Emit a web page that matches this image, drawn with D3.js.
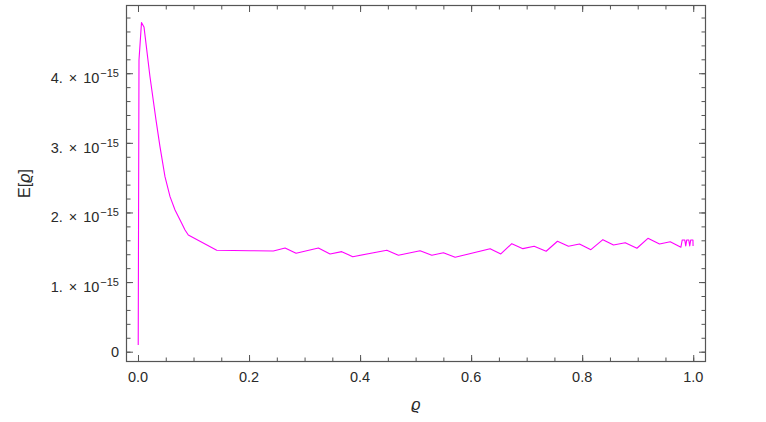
<!DOCTYPE html>
<html lang="en">
<head>
<meta charset="utf-8">
<title>E[rho]</title>
<script src="https://cdn.jsdelivr.net/npm/d3@7"></script>
<style>
  body { margin: 0; background: #fff; }
  svg text { font-family: Arial, "Liberation Sans", sans-serif; fill: #2a2a2a; }
</style>
</head>
<body>
<script>
// data (energy in units of 1e-15)
var rho = [0.0004, 0.0018, 0.0063, 0.0108, 0.0216, 0.0324, 0.0396, 0.0486, 0.0577, 0.0667,
  0.0787, 0.0847, 0.0906, 0.1418, 0.2018, 0.2438, 0.2649, 0.2847, 0.3249, 0.3459,
  0.3670, 0.3868, 0.4481, 0.4690, 0.5081, 0.5292, 0.5501, 0.5712, 0.6342, 0.6535,
  0.6733, 0.6932, 0.7135, 0.7351, 0.7555, 0.7753, 0.7951, 0.8157, 0.8373, 0.8564,
  0.8775, 0.8986, 0.9184, 0.9393, 0.9586, 0.9778, 0.9802, 0.9847, 0.9865, 0.9883,
  0.9919, 0.9937, 0.9955, 0.9995, 0.9997];
var energy = [0.096, 4.19, 4.727, 4.665, 3.95, 3.33, 2.945, 2.514, 2.227, 2.036,
  1.845, 1.749, 1.677, 1.457, 1.451, 1.447, 1.490, 1.414, 1.490, 1.404,
  1.437, 1.365, 1.457, 1.385, 1.451, 1.385, 1.422, 1.356, 1.480, 1.404,
  1.552, 1.480, 1.514, 1.443, 1.586, 1.514, 1.547, 1.466, 1.609, 1.533,
  1.566, 1.486, 1.629, 1.547, 1.580, 1.500, 1.605, 1.605, 1.519, 1.605,
  1.605, 1.519, 1.605, 1.605, 1.519];
var unit = 1e-15;
var xTicks = [0, 0.2, 0.4, 0.6, 0.8, 1.0];
var yTicks = [0, 1, 2, 3, 4];

var w = 766, h = 422;
var plotLeft = 126, plotRight = 706, plotTop = 5, plotBottom = 362;

var x = d3.scaleLinear().domain([-0.0216, 1.023]).range([plotLeft, plotRight]);
var y = d3.scaleLinear().domain([-0.148 * unit, 4.98 * unit]).range([plotBottom, plotTop]);

var svg = d3.select("body").append("svg")
  .attr("width", w)
  .attr("height", h);

var frameColor = "#555";

// minor ticks
var xMinor = d3.range(0, 1.0001, 0.05);
var yMinor = d3.range(0, 4.9, 0.2).map(function(d) { return d * unit; });
var yMajor = yTicks.map(function(d) { return d * unit; });

function drawAxis(axis, tx, ty, len) {
  var g = svg.append("g")
    .attr("transform", "translate(" + tx + "," + ty + ")")
    .call(axis.tickSize(len).tickFormat(""));
  g.select(".domain").remove();
  g.selectAll("line").attr("stroke", frameColor).attr("stroke-width", 1);
}

// bottom & top
drawAxis(d3.axisBottom(x).tickValues(xMinor), 0, plotBottom, -4.5);
drawAxis(d3.axisBottom(x).tickValues(xTicks), 0, plotBottom, -7);
drawAxis(d3.axisTop(x).tickValues(xMinor), 0, plotTop, -4.5);
drawAxis(d3.axisTop(x).tickValues(xTicks), 0, plotTop, -7);
// left & right
drawAxis(d3.axisLeft(y).tickValues(yMinor), plotLeft, 0, -4.5);
drawAxis(d3.axisLeft(y).tickValues(yMajor), plotLeft, 0, -7);
drawAxis(d3.axisRight(y).tickValues(yMinor), plotRight, 0, -4.5);
drawAxis(d3.axisRight(y).tickValues(yMajor), plotRight, 0, -7);

// frame
svg.append("rect")
  .attr("x", plotLeft + 0.5).attr("y", plotTop + 0.5)
  .attr("width", plotRight - plotLeft - 1).attr("height", plotBottom - plotTop - 1)
  .attr("fill", "none")
  .attr("stroke", frameColor)
  .attr("stroke-width", 1.2);

// x tick labels
svg.selectAll("text.xlab")
  .data(xTicks)
  .enter()
  .append("text")
  .attr("class", "xlab")
  .attr("x", function(d) { return x(d); })
  .attr("y", 382)
  .attr("text-anchor", "middle")
  .style("font-size", "14.5px")
  .text(d3.format(".1f"));

// y tick labels
yTicks.forEach(function(d) {
  var py = y(d * unit);
  if (d === 0) {
    svg.append("text")
      .attr("x", 119).attr("y", py + 5)
      .attr("text-anchor", "end")
      .style("font-size", "14.5px")
      .text("0");
    return;
  }
  var t = svg.append("text")
    .attr("x", 119).attr("y", py + 10)
    .attr("text-anchor", "end")
    .style("font-size", "14.5px");
  t.append("tspan").text(d + ".");
  t.append("tspan").attr("dx", 6).text("\u00d7");
  t.append("tspan").attr("dx", 6).text("10");
  t.append("tspan").attr("dx", 1).attr("dy", -6).style("font-size", "11px").text("\u221215");
});

// axis titles
svg.append("text")
  .attr("transform", "translate(30," + ((plotTop + plotBottom) / 2) + ") rotate(-90)")
  .attr("text-anchor", "middle")
  .style("font-size", "16px")
  .html("E[<tspan font-style='italic'>\u03f1</tspan>]");

svg.append("text")
  .attr("x", 416).attr("y", 410)
  .attr("text-anchor", "middle")
  .style("font-size", "16px")
  .style("font-style", "italic")
  .text("\u03f1");

// curve
var line = d3.line()
  .x(function(d) { return x(d[0]); })
  .y(function(d) { return y(d[1] * unit); });

svg.append("path")
  .datum(d3.zip(rho, energy))
  .attr("fill", "none")
  .attr("stroke", "#ff00ff")
  .attr("stroke-width", 1.1)
  .attr("stroke-linejoin", "round")
  .attr("d", line);
</script>
</body>
</html>
